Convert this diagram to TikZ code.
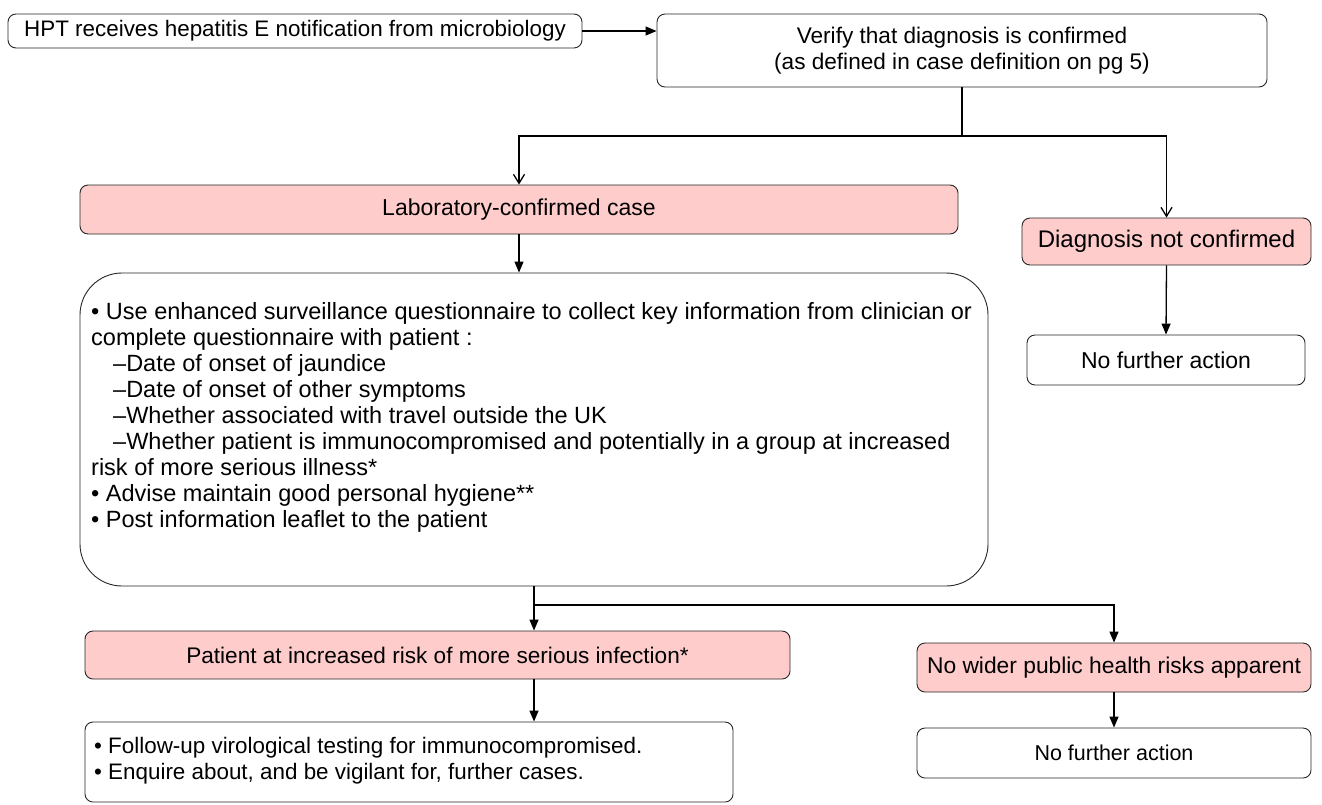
\documentclass[tikz,border=0pt]{standalone}
\usepackage{fontspec}
\setmainfont{Liberation Sans}
\usetikzlibrary{arrows.meta,calc}
\definecolor{pinkfill}{RGB}{255,204,204}
\newcommand{\fs}[1]{\fontsize{#1}{26}\selectfont}
\begin{document}
\begin{tikzpicture}[x=1pt,y=-1pt,
  box/.style={draw=black!85, line width=0.9pt, rounded corners=8pt, inner sep=0pt, font=\fs{23}, align=center},
  pinkbox/.style={box, fill=pinkfill},
  conn/.style={line width=1.3pt, black},
  arr/.style={conn, -{Triangle[width=9pt,length=11pt]}},
  openarr/.style={conn, -{Straight Barb[width=11pt,length=9pt,line width=1.3pt]}},
  txt/.style={inner sep=0pt, align=left}
]
\useasboundingbox (0,0) rectangle (1322,804);
\node[box, font=\fs{22.4}, minimum width=574pt, minimum height=34pt] (b1) at (295,31) {HPT receives hepatitis E notification from microbiology};
\node[box, font=\fs{22.6}, minimum width=610pt, minimum height=73pt] (b2) at (962,50.5) {Verify that diagnosis is confirmed\\(as defined in case definition on pg 5)};
\node[pinkbox, minimum width=878pt, minimum height=49pt] (lab) at (519,209.5) {Laboratory-confirmed case};
\node[pinkbox, font=\fs{24}, minimum width=289pt, minimum height=47pt] (dnc) at (1166.5,241.5) {Diagnosis not confirmed};
\node[box, minimum width=278pt, minimum height=50pt] (nfa1) at (1166,360) {No further action};
\node[box, rounded corners=42pt, minimum width=908pt, minimum height=313pt] (big) at (534,429.5) {};
\node[txt, font=\fs{23.5}, anchor=north west] (bigtxt) at (91,302) {%
\textbullet\ Use enhanced surveillance questionnaire to collect key information from clinician or\\
complete questionnaire with patient :\\
\hspace*{22pt}–Date of onset of jaundice\\
\hspace*{22pt}–Date of onset of other symptoms\\
\hspace*{22pt}–Whether associated with travel outside the UK\\
\hspace*{22pt}–Whether patient is immunocompromised and potentially in a group at increased\\
risk of more serious illness*\\
\textbullet\ Advise maintain good personal hygiene**\\
\textbullet\ Post information leaflet to the patient};
\node[pinkbox, font=\fs{22.6}, minimum width=705pt, minimum height=48pt] (pat) at (437.5,655) {Patient at increased risk of more serious infection*};
\node[pinkbox, font=\fs{22.8}, minimum width=394pt, minimum height=49pt] (nw) at (1114,667.5) {No wider public health risks apparent};
\node[box, font=\fs{21.5}, minimum width=394pt, minimum height=50pt] (nfa2) at (1114,753) {No further action};
\node[box, minimum width=648pt, minimum height=80pt] (fu) at (409,762) {};
\node[txt, font=\fs{22.4}, anchor=west] (futxt) at (94,761) {\textbullet\ Follow-up virological testing for immunocompromised.\\
\textbullet\ Enquire about, and be vigilant for, further cases.};
\coordinate (j1) at (962,136);
\coordinate (j2) at (534,605);
\draw[arr] (b1.east) -- (b1.east -| b2.west);
\draw[conn] (b2.south) -- (j1);
\draw[openarr] (j1) -| (lab.north);
\draw[openarr] (j1) -| (dnc.north);
\draw[arr] (lab.south) -- (lab.south |- big.north);
\draw[arr] (dnc.south) -- (nfa1.north);
\draw[conn] (big.south) -- (j2);
\draw[arr] (j2) -- (j2 |- pat.north);
\draw[arr] (j2) -| (nw.north);
\draw[arr] (nw.south) -- (nfa2.north);
\draw[arr] (pat.south -| j2) -- (fu.north -| j2);
\end{tikzpicture}
\end{document}
